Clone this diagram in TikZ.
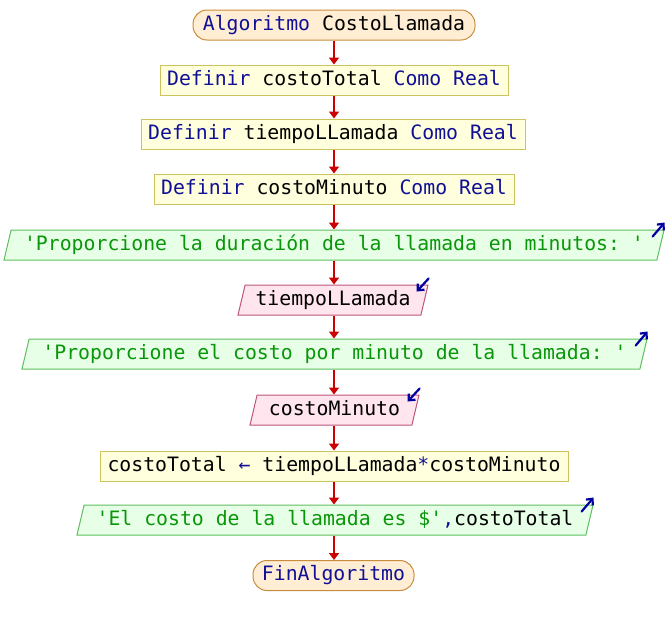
\documentclass[tikz,border=0pt]{standalone}
\usepackage{fontspec}
\setmonofont{DejaVu Sans Mono}
\usetikzlibrary{shapes.geometric,arrows.meta,calc}

\definecolor{kw}{RGB}{16,16,150}
\definecolor{str}{RGB}{10,150,10}
\definecolor{flowred}{RGB}{204,0,0}
\definecolor{termfill}{RGB}{255,238,212}
\definecolor{termdraw}{RGB}{200,140,60}
\definecolor{procfill}{RGB}{255,255,221}
\definecolor{procdraw}{RGB}{205,195,95}
\definecolor{outfill}{RGB}{230,255,230}
\definecolor{outdraw}{RGB}{95,190,95}
\definecolor{infill}{RGB}{255,230,238}
\definecolor{indraw}{RGB}{190,85,125}
\definecolor{ioarrow}{RGB}{0,0,160}

\newcommand{\kw}[1]{\textcolor{kw}{#1}}
\newcommand{\str}[1]{\textcolor{str}{#1}}

\begin{document}
\begin{tikzpicture}[x=1pt,y=-1pt,
  every node/.style={font=\ttfamily\fontsize{19.8}{24}\selectfont,
    text height=14.5pt, text depth=4pt, inner sep=0pt, minimum height=30pt,
    line width=1pt},
  terminal/.style={rectangle, rounded corners=14pt, fill=termfill, draw=termdraw},
  procbox/.style={rectangle, fill=procfill, draw=procdraw},
  outbox/.style={trapezium, trapezium left angle=69, trapezium right angle=111,
    trapezium stretches body, fill=outfill, draw=outdraw},
  inbox/.style={trapezium, trapezium left angle=69, trapezium right angle=111,
    trapezium stretches body, fill=infill, draw=indraw},
  flow/.style={draw=flowred, line width=1.8pt, -{Triangle[width=10pt,length=7pt]}},
  iomark/.style={draw=ioarrow, line width=2.2pt, line cap=round,
    -{Straight Barb[width=9pt,length=5pt,line width=2.2pt]}}
]
\useasboundingbox (0,0) rectangle (668,625);

\node[terminal, minimum width=282pt] (start) at (334,25)
  {\kw{Algoritmo} CostoLlamada};
\node[procbox, minimum width=348pt] (def1) at (334,80)
  {\kw{Definir} costoTotal \kw{Como Real}};
\node[procbox, minimum width=384pt] (def2) at (333,134)
  {\kw{Definir} tiempoLLamada \kw{Como Real}};
\node[procbox, minimum width=360pt] (def3) at (334,189)
  {\kw{Definir} costoMinuto \kw{Como Real}};
\node[outbox, minimum width=660pt] (out1) at (334,245)
  {\str{'Proporcione la duración de la llamada en minutos: '}};
\node[inbox, minimum width=190pt] (in1) at (333,300)
  {tiempoLLamada};
\node[outbox, minimum width=625pt] (out2) at (334.5,354)
  {\str{'Proporcione el costo por minuto de la llamada: '}};
\node[inbox, minimum width=169pt] (in2) at (334.5,410)
  {costoMinuto};
\node[procbox, minimum width=468pt] (calc) at (334,466)
  {costoTotal \kw{←} tiempoLLamada\kw{*}costoMinuto};
\node[outbox, minimum width=516pt] (out3) at (335,520)
  {\str{'El costo de la llamada es \$'}\kw{,}costoTotal};
\node[terminal, minimum width=161pt] (stop) at (333.5,575.5)
  {\kw{FinAlgoritmo}};

% control flow
\foreach \a/\b in {start/def1, def1/def2, def2/def3, def3/out1, out1/in1,
                   in1/out2, out2/in2, in2/calc, calc/out3, out3/stop}
  \draw[flow] (334,0 |- \a.south) -- (334,0 |- \b.north);

% output markers (pointing out) and input markers (pointing in)
\foreach \n in {out1, out2, out3}
  \draw[iomark] ($(\n.top right corner)+(-12,7)$) -- ($(\n.top right corner)+(0,-7)$);
\foreach \n in {in1, in2}
  \draw[iomark] ($(\n.top right corner)+(0,-6)$) -- ($(\n.top right corner)+(-12,7)$);
\end{tikzpicture}
\end{document}
